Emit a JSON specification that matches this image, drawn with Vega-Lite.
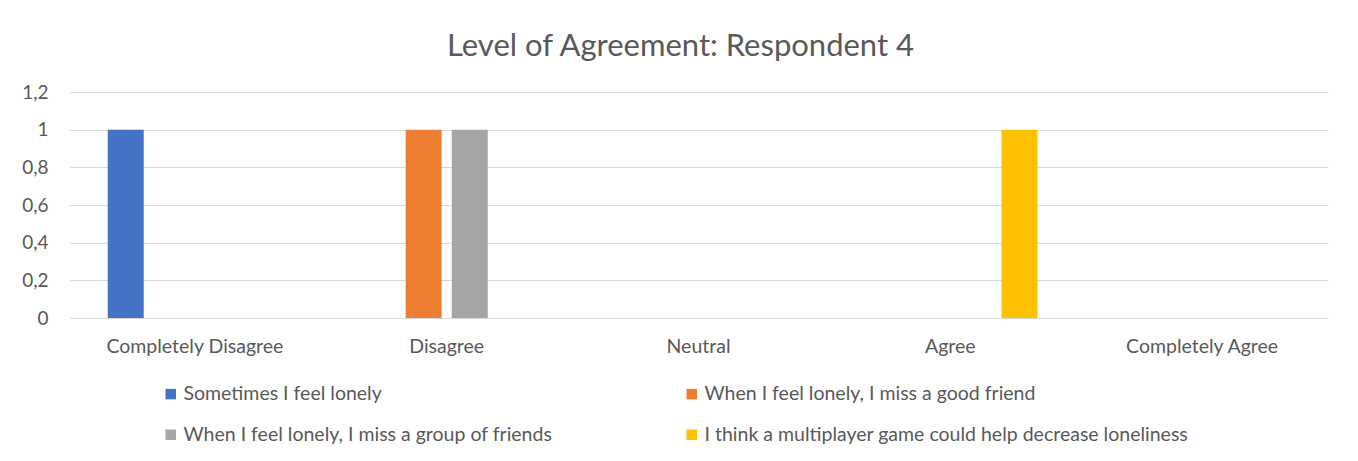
{
  "$schema": "https://vega.github.io/schema/vega-lite/v6.json",
  "autosize": "none",
  "width": 1259,
  "height": 226,
  "padding": {"left": 69, "top": 92, "right": 30, "bottom": 143},
  "background": "white",
  "title": {
    "text": "Level of Agreement: Respondent 4",
    "font": "Lato",
    "fontSize": 31,
    "fontWeight": "normal",
    "color": "#595959",
    "anchor": "middle",
    "frame": "group",
    "dx": -18,
    "dy": 11,
    "baseline": "bottom",
    "offset": 0
  },
  "data": {
    "values": [
      {"level": "Completely Disagree", "statement": "Sometimes I feel lonely", "count": 1},
      {"level": "Completely Disagree", "statement": "When I feel lonely, I miss a good friend", "count": 0},
      {"level": "Completely Disagree", "statement": "When I feel lonely, I miss a group of friends", "count": 0},
      {"level": "Completely Disagree", "statement": "I think a multiplayer game could help decrease loneliness", "count": 0},
      {"level": "Disagree", "statement": "Sometimes I feel lonely", "count": 0},
      {"level": "Disagree", "statement": "When I feel lonely, I miss a good friend", "count": 1},
      {"level": "Disagree", "statement": "When I feel lonely, I miss a group of friends", "count": 1},
      {"level": "Disagree", "statement": "I think a multiplayer game could help decrease loneliness", "count": 0},
      {"level": "Neutral", "statement": "Sometimes I feel lonely", "count": 0},
      {"level": "Neutral", "statement": "When I feel lonely, I miss a good friend", "count": 0},
      {"level": "Neutral", "statement": "When I feel lonely, I miss a group of friends", "count": 0},
      {"level": "Neutral", "statement": "I think a multiplayer game could help decrease loneliness", "count": 0},
      {"level": "Agree", "statement": "Sometimes I feel lonely", "count": 0},
      {"level": "Agree", "statement": "When I feel lonely, I miss a good friend", "count": 0},
      {"level": "Agree", "statement": "When I feel lonely, I miss a group of friends", "count": 0},
      {"level": "Agree", "statement": "I think a multiplayer game could help decrease loneliness", "count": 1},
      {"level": "Completely Agree", "statement": "Sometimes I feel lonely", "count": 0},
      {"level": "Completely Agree", "statement": "When I feel lonely, I miss a good friend", "count": 0},
      {"level": "Completely Agree", "statement": "When I feel lonely, I miss a group of friends", "count": 0},
      {"level": "Completely Agree", "statement": "I think a multiplayer game could help decrease loneliness", "count": 0}
    ]
  },
  "mark": {"type": "bar"},
  "encoding": {
    "x": {
      "field": "level",
      "type": "nominal",
      "sort": ["Completely Disagree", "Disagree", "Neutral", "Agree", "Completely Agree"],
      "scale": {"paddingInner": 0, "paddingOuter": 0},
      "axis": {
        "title": null,
        "labelAngle": 0,
        "ticks": false,
        "domainColor": "#d9d9d9",
        "domainWidth": 1,
        "labelFont": "Lato",
        "labelFontSize": 19.5,
        "labelColor": "#595959",
        "labelPadding": 19,
        "grid": false
      }
    },
    "xOffset": {
      "field": "statement",
      "type": "nominal",
      "sort": ["Sometimes I feel lonely", "When I feel lonely, I miss a good friend", "When I feel lonely, I miss a group of friends", "I think a multiplayer game could help decrease loneliness"],
      "scale": {"paddingInner": 0.22, "paddingOuter": 0.84}
    },
    "y": {
      "field": "count",
      "type": "quantitative",
      "scale": {"domain": [0, 1.2], "nice": false},
      "axis": {
        "title": null,
        "values": [0, 0.2, 0.4, 0.6, 0.8, 1, 1.2],
        "labelExpr": "replace(format(datum.value, '~g'), '.', ',')",
        "domain": false,
        "ticks": false,
        "gridColor": "#d9d9d9",
        "gridWidth": 1,
        "labelFont": "Lato",
        "labelFontSize": 19,
        "labelColor": "#595959",
        "labelPadding": 21
      }
    },
    "color": {
      "field": "statement",
      "type": "nominal",
      "scale": {
        "domain": ["Sometimes I feel lonely", "When I feel lonely, I miss a group of friends", "When I feel lonely, I miss a good friend", "I think a multiplayer game could help decrease loneliness"],
        "range": ["#4472C4", "#A5A5A5", "#ED7D31", "#FFC000"]
      },
      "legend": {
        "title": null,
        "orient": "none",
        "legendX": 92,
        "legendY": 292,
        "columns": 2,
        "columnPadding": 129,
        "rowPadding": 20,
        "padding": 0,
        "symbolType": "square",
        "symbolSize": 110,
        "symbolStrokeWidth": 0,
        "symbolOffset": 0,
        "labelOffset": 3,
        "labelFont": "Lato",
        "labelFontSize": 19.5,
        "labelColor": "#595959",
        "labelLimit": 0
      }
    }
  },
  "config": {
    "view": {"stroke": null}
  }
}
